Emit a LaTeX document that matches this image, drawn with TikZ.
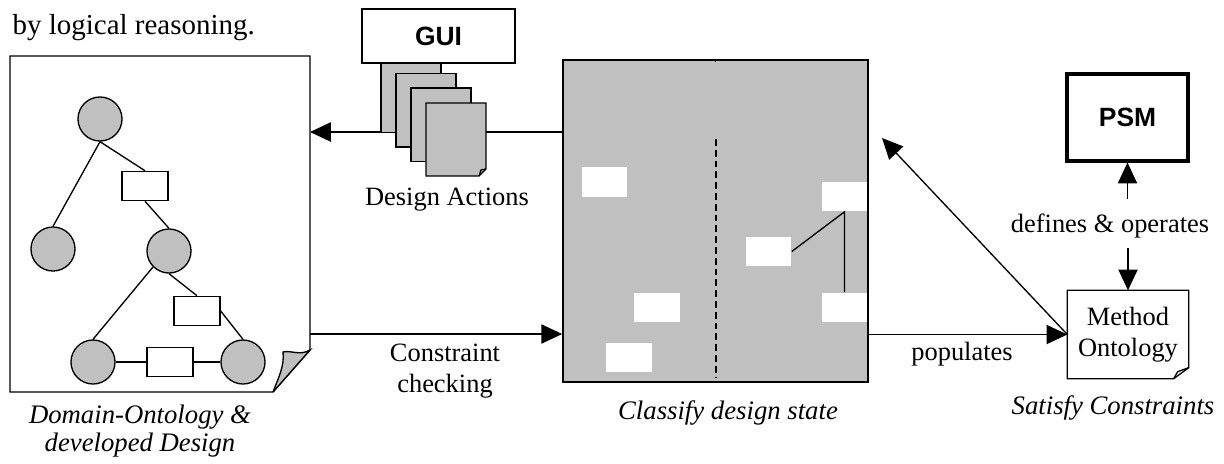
\documentclass[tikz,border=0pt]{standalone}
\usepackage{fontspec}
\setmainfont{Liberation Serif}
\setsansfont{Liberation Sans}
\usetikzlibrary{arrows.meta}
\definecolor{boxgrey}{RGB}{192,192,192}

\begin{document}
\begin{tikzpicture}[x=0.025cm, y=-0.025cm, line width=0.95pt,
	arr/.style={-{Triangle[length=0.52cm,width=0.48cm]}},
	blob/.style={circle, draw, fill=boxgrey, minimum size=1.1cm, inner sep=0pt},
	rel/.style={rectangle, draw, fill=white, minimum width=1.15cm, minimum height=0.73cm, inner sep=0pt},
	slot/.style={rectangle, fill=white, minimum width=1.13cm, minimum height=0.73cm, inner sep=0pt},
	lbl/.style={font=\fontsize{18.8}{22}\selectfont, align=center, inner sep=0pt},
	subtitle/.style={font=\fontsize{19}{20}\selectfont\itshape, align=center, inner sep=0pt},
	head/.style={draw, font=\fontsize{18.8}{22}\selectfont\sffamily\bfseries, inner sep=0pt}]
		\useasboundingbox (0,0) rectangle (1224,463);
		\node[lbl, anchor=west, font=\fontsize{20.6}{24}\selectfont] (intro) at (12,28) {by logical reasoning.};

		% domain ontology sheet
		\draw[fill=white] (10,56) -- (310,56) -- (310,350) -- (273,392) -- (10,392) -- cycle;
		\draw[fill=boxgrey] (273,392) -- (310,350) .. controls (300,356) and (291,350) .. (283,352) .. controls (285,366) and (277,381) .. (273,392);
		\coordinate (doc) at (310,224);
		\node[blob] (n1) at (100,119) {};
		\node[blob] (n2) at (53,249) {};
		\node[blob] (n3) at (169,251) {};
		\node[blob] (n4) at (93,362) {};
		\node[blob] (n5) at (243,362) {};
		\node[rel] (r1) at (145,186) {};
		\node[rel] (r2) at (197,311) {};
		\node[rel] (r3) at (170,362) {};
		\draw (n1.south) -- (n2.north);
		\draw (n1.south) -- (r1.north);
		\draw (r1.south) -- (n3.north);
		\draw (n3.south west) -- (n4.north);
		\draw (n3.south) -- (r2.north);
		\draw (r2.east) -- (n5.north);
		\draw (n4) -- (r3) -- (n5);

		% design state
		\node[draw, fill=boxgrey, line width=1.1pt, minimum width=7.625cm, minimum height=8.05cm, inner sep=0pt] (state) at (715.5,221) {};
		\draw[line width=1.1pt] (state.north) -- ++(0,3);
		\draw[line width=1.1pt, dash pattern=on 0.17cm off 0.1cm] (716,139) -- (716,377);
		\node[slot] (s1) at (604.5,182) {};
		\node[slot] (s2) at (657,307.5) {};
		\node[slot] (s3) at (629,357.5) {};
		\node[slot] (s4) at (768.5,251.5) {};
		\node[slot] (s5) at (844.5,196.5) {};
		\node[slot] (s6) at (844.5,307.5) {};
		\draw (s4.east) -- (s5.south) -- (s6.north);

		% design actions
		\draw[arr] (state.west |- 0,132) -- (doc |- 0,132);
		\foreach \i in {0,1,2}{ \draw[fill=boxgrey] ({381+15*\i},{59+14.5*\i}) rectangle ++(60,73.5); }
		\draw[fill=boxgrey] (426,103) -- (486,103) -- (486,169) -- (479,176) -- (426,176) -- cycle;
		\draw (479,176) -- ++(2,-6) -- (486,169);
		\node[head, line width=1.1pt, fill=white, minimum width=3.825cm, minimum height=1.35cm] (gui) at (438.5,36) {GUI};
		\node[lbl] (act) at (447,200) {Design Actions};

		\draw[arr] (doc |- 0,334) -- (state.west |- 0,334);
		\node[lbl] (chk) at (445,371) {Constraint\\checking};

		% method side
		\node[lbl, minimum width=3cm, minimum height=2.175cm] (meth) at (1128,334.5) {Method\\Ontology};
		\draw (meth.north west) -- (meth.north east) -- ([yshift=0.275cm]meth.south east) -- ([xshift=-0.375cm]meth.south east) -- (meth.south west) -- cycle;
		\draw ([xshift=-0.375cm]meth.south east) -- ++(4,-7) -- ([yshift=0.275cm]meth.south east);
		\node[head, line width=2.2pt, minimum width=3.025cm, minimum height=2.175cm] (psm) at (1127.5,117.5) {PSM};
		\node[lbl] (ops) at (1110,226) {defines \& operates};
		\draw[arr, shorten <=0.35cm] (psm.south |- ops.north) -- (psm.south);
		\draw[arr, shorten <=0.23cm] (meth.north |- ops.south) -- (meth.north);
		\draw[arr] (state.east |- meth.west) -- (meth.west);
		\node[lbl] (pop) at (962,354) {populates};
		\coordinate (back) at (882,138);
		\draw[arr] (meth.west) -- (back);

		\node[subtitle] (c1) at (140,431) {Domain-Ontology \&\\developed Design};
		\node[subtitle] (c2) at (728,413) {Classify design state};
		\node[subtitle] (c3) at (1113,408) {Satisfy Constraints};
	\end{tikzpicture}
\end{document}
